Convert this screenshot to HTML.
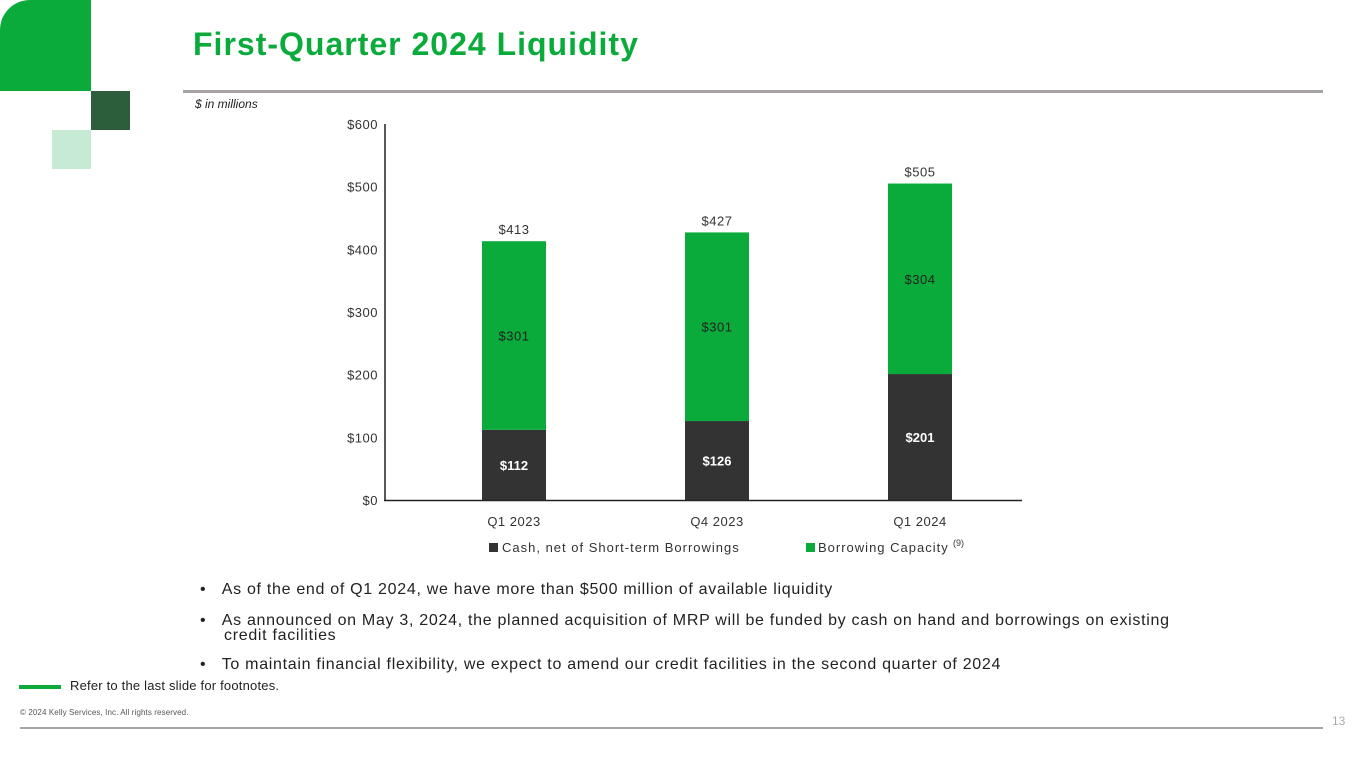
<!DOCTYPE html>
<html><head><meta charset="utf-8"><style>
body{margin:0;width:1365px;height:768px;background:#fff;position:relative;overflow:hidden;font-family:"Liberation Sans",sans-serif;color:#222}
.a{position:absolute}
</style></head><body>
<div class="a" style="left:0;top:0;width:91px;height:91px;background:#0bab3b;border-top-left-radius:30px"></div>
<div class="a" style="left:91px;top:91px;width:39px;height:39px;background:#2d5e3b"></div>
<div class="a" style="left:52px;top:130px;width:39px;height:39px;background:#c6ead3"></div>
<div class="a" style="left:193px;top:26px;font-size:32px;font-weight:bold;color:#0bab3b;letter-spacing:1px">First-Quarter 2024 Liquidity</div>
<div class="a" style="left:183px;top:90px;width:1140px;height:3px;background:#a8a4a6"></div>
<div class="a" style="left:195px;top:97px;font-size:12px;font-style:italic">$ in millions</div>
<svg class="a" style="left:0;top:0" width="1365" height="768" id="chart"></svg>
<div class="a" style="left:200px;top:582px;font-size:16px;line-height:15px;letter-spacing:0.7px;width:1100px">
<div style="position:absolute;top:0">•&nbsp;&nbsp;&nbsp;As of the end of Q1 2024, we have more than $500 million of available liquidity</div>
<div style="position:absolute;top:31px">•&nbsp;&nbsp;&nbsp;As announced on May 3, 2024, the planned acquisition of MRP will be funded by cash on hand and borrowings on existing<br><span style="padding-left:24px">credit facilities</span></div>
<div style="position:absolute;top:75px">•&nbsp;&nbsp;&nbsp;To maintain financial flexibility, we expect to amend our credit facilities in the second quarter of 2024</div>
</div>
<div class="a" style="left:19px;top:685px;width:42px;height:4px;background:#0bab3b"></div>
<div class="a" style="left:70px;top:678px;font-size:13px;letter-spacing:0.2px">Refer to the last slide for footnotes.</div>
<div class="a" style="left:20px;top:708px;font-size:8px;color:#555;letter-spacing:0.1px">© 2024 Kelly Services, Inc. All rights reserved.</div>
<div class="a" style="left:1332px;top:714px;font-size:12px;color:#aaa">13</div>
<div class="a" style="left:20px;top:727px;width:1303px;height:2px;background:#a8a4a6"></div>
<script>
const categories=["Q1 2023","Q4 2023","Q1 2024"];
const cashValues=[112,126,201];
const borrowValues=[301,301,304];
const totals=[413,427,505];
const yTicks=[0,100,200,300,400,500,600];
const svg=document.getElementById('chart');
const NS='http://www.w3.org/2000/svg';
const y=v=>500-v*376/600;
const xc=i=>514+i*203;
function mk(t,a,txt){const e=document.createElementNS(NS,t);for(const k in a)e.setAttribute(k,a[k]);if(txt!==undefined)e.textContent=txt;svg.appendChild(e);return e;}
yTicks.forEach(v=>{const e=mk('text',{x:378,y:y(v)+5,'text-anchor':'end','font-size':13,fill:'#333','font-family':'Liberation Sans','letter-spacing':0.5},'$'+v);

});
categories.forEach((c,i)=>{
const b1=mk('rect',{x:xc(i)-32,y:y(cashValues[i]),width:64,height:500-y(cashValues[i]),fill:'#333333'});


const top=cashValues[i]+borrowValues[i];
const b2=mk('rect',{x:xc(i)-32,y:y(top),width:64,height:y(cashValues[i])-y(top),fill:'#0bab3b'});


const l1=mk('text',{x:xc(i),y:(y(cashValues[i])+500)/2+5,'text-anchor':'middle','font-size':13,'font-weight':'bold',fill:'#fff','font-family':'Liberation Sans'},'$'+cashValues[i]);


const l2=mk('text',{x:xc(i),y:(y(cashValues[i])+y(top))/2+5,'text-anchor':'middle','font-size':13,fill:'#222','font-family':'Liberation Sans','letter-spacing':0.5},'$'+borrowValues[i]);


const l3=mk('text',{x:xc(i),y:y(totals[i])-7,'text-anchor':'middle','font-size':13,fill:'#333','font-family':'Liberation Sans','letter-spacing':0.5},'$'+totals[i]);


const l4=mk('text',{x:xc(i),y:526,'text-anchor':'middle','font-size':13,fill:'#333','font-family':'Liberation Sans','letter-spacing':0.5},c);


});
const ax=mk('line',{x1:385,y1:124,x2:385,y2:501,stroke:'#222','stroke-width':1.5});


const bx=mk('line',{x1:384,y1:500.5,x2:1022,y2:500.5,stroke:'#222','stroke-width':1.5});


const s1=mk('rect',{x:489,y:543,width:9,height:9,fill:'#333'});


const t1=mk('text',{x:502,y:552,'font-size':13,fill:'#333','font-family':'Liberation Sans','letter-spacing':1},'Cash, net of Short-term Borrowings');


const s2=mk('rect',{x:806,y:543,width:9,height:9,fill:'#0bab3b'});


const t2=mk('text',{x:818,y:552,'font-size':13,fill:'#333','font-family':'Liberation Sans','letter-spacing':1},'Borrowing Capacity');


const t3=mk('text',{x:953,y:546,'font-size':9,fill:'#333','font-family':'Liberation Sans'},'(9)');


</script>
</body></html>
